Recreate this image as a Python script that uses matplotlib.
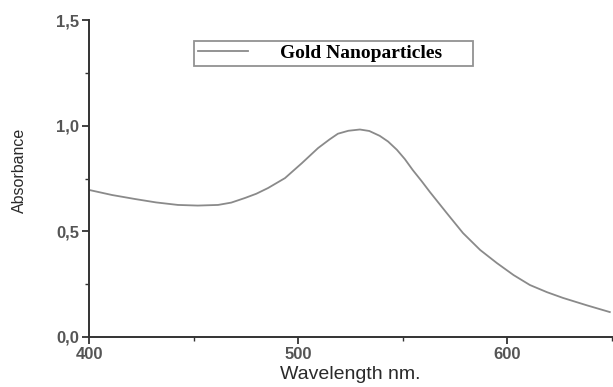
import matplotlib
matplotlib.use("Agg")
import matplotlib.pyplot as plt
from matplotlib.ticker import MultipleLocator, FuncFormatter

# UV-Vis spectrum
wavelength = [400, 411, 422, 432, 442.5, 452, 461.7, 468, 474.6, 480, 485.6,
              493.7, 501.8, 509.5, 515, 519, 524, 529.5, 534, 539, 543,
              547.2, 551, 554.8, 559, 563, 571, 578.8, 587, 595, 603,
              610.8, 619, 626.6, 638, 649]
absorbance = [0.696, 0.672, 0.653, 0.637, 0.625, 0.622, 0.625, 0.636, 0.658,
              0.678, 0.705, 0.752, 0.823, 0.894, 0.935, 0.962, 0.976, 0.982,
              0.975, 0.952, 0.925, 0.886, 0.842, 0.790, 0.738, 0.686, 0.587,
              0.492, 0.412, 0.350, 0.293, 0.246, 0.212, 0.185, 0.150, 0.118]

fig = plt.figure(figsize=(6.13, 3.87), dpi=100)
ax = fig.add_axes([0.1452, 0.1292, 0.853, 0.819])

ax.plot(wavelength, absorbance, color="#8a8a8a", lw=1.3,
        label="Gold Nanoparticles")

ax.set_xlim(400, 650)
ax.set_ylim(0, 1.5)
ax.xaxis.set_major_locator(MultipleLocator(100))
ax.xaxis.set_minor_locator(MultipleLocator(50))
ax.yaxis.set_major_locator(MultipleLocator(0.5))
ax.yaxis.set_minor_locator(MultipleLocator(0.25))
ax.yaxis.set_major_formatter(FuncFormatter(lambda v, p: f"{v:.1f}".replace(".", ",")))

for s in ["top", "right"]:
    ax.spines[s].set_visible(False)
for s in ["left", "bottom"]:
    ax.spines[s].set_linewidth(1.4)
    ax.spines[s].set_color("#333333")

ax.tick_params(which="major", direction="out", length=5, width=1.3,
               color="#333333", labelsize=12, labelcolor="#555555", pad=2)
ax.tick_params(which="minor", direction="out", length=3, width=1.0,
               color="#333333")
for lab in ax.get_xticklabels() + ax.get_yticklabels():
    lab.set_fontfamily("Liberation Sans")
    lab.set_fontweight("bold")

ax.set_xlabel("Wavelength nm.", fontsize=14, family="Liberation Sans",
              color="#2a2a2a", labelpad=3)
ax.set_ylabel("Absorbance", fontsize=11.5, family="Liberation Sans",
              color="#2a2a2a")
ax.yaxis.set_label_coords(-0.118, 0.527)

leg = ax.legend(loc="lower left", bbox_to_anchor=(0.2008, 0.855, 0.534, 0.072),
                mode="expand", frameon=True, fancybox=False, borderaxespad=0,
                handlelength=2.6, handletextpad=1.6, borderpad=0.2,
                prop={"family": "Liberation Serif", "weight": "bold", "size": 14})
leg.get_frame().set_edgecolor("#777777")
leg.get_frame().set_linewidth(1.3)

fig.savefig("out.png", dpi=100)
